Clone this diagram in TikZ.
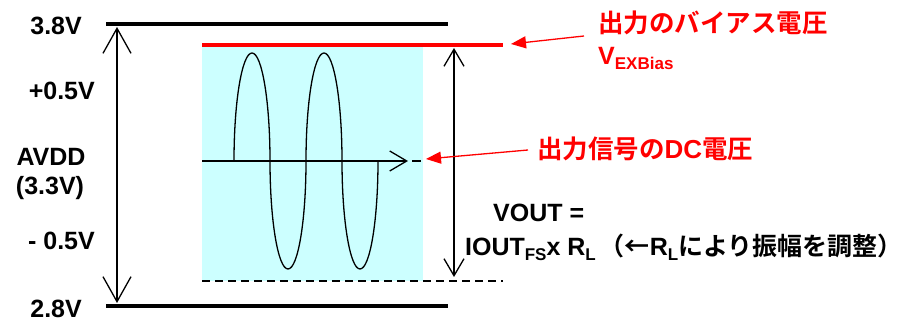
\documentclass[tikz,border=0pt]{standalone}
\usepackage{fontspec}
\setmainfont{Liberation Sans}
\newfontfamily\cjk{Noto Sans CJK JP}[BoldFont={Noto Sans CJK JP Bold}]
\usetikzlibrary{arrows.meta}
\definecolor{bgcyan}{HTML}{CCFFFF}
\definecolor{pred}{HTML}{FF0000}
\newcommand\sbs[1]{\raisebox{-5pt}{\fontsize{17}{17}\selectfont #1}}
\begin{document}
\begin{tikzpicture}[x=1pt,y=1pt,
  lbl/.style={font=\fontsize{25}{27}\selectfont\bfseries, inner sep=0pt},
  rlbl/.style={font=\fontsize{25.5}{27}\selectfont\bfseries\cjk, text=pred, inner sep=0pt},
  rail/.style={line width=3.6pt},
  thinline/.style={line width=1.3pt},
  bigdbl/.style={thinline, {Straight Barb[length=25pt,width=28pt]}-{Straight Barb[length=25pt,width=28pt]}},
  smalldbl/.style={thinline, {Straight Barb[length=17pt,width=20pt]}-{Straight Barb[length=17pt,width=20pt]}},
  redarrow/.style={pred, line width=1.3pt, -{Triangle[length=15pt,width=12pt]}}]
\useasboundingbox (0,0) rectangle (905,323);
% background region
\fill[bgcyan] (202,42) rectangle (423,278);
% rails
\coordinate (t0) at (106,299); \coordinate (t1) at (448,299);
\coordinate (b0) at (106,17); \coordinate (b1) at (448,17);
\draw[rail] (t0) -- (t1);
\draw[rail] (b0) -- (b1);
% red bias line
\coordinate (r0) at (202,278); \coordinate (r1) at (503,278);
\draw[pred, line width=4pt] (r0) -- (r1);
% dashed bottom
\coordinate (d0) at (202,42); \coordinate (d1) at (503,42);
\draw[thinline, dash pattern=on 8pt off 5pt] (d0) -- (d1);
% left double arrow
\coordinate (la0) at (117,296); \coordinate (la1) at (117,20);
\draw[bigdbl] (la0) -- (la1);
% right double arrow
\coordinate (ra0) at (454,275); \coordinate (ra1) at (454,46);
\draw[smalldbl] (ra0) -- (ra1);
% axis
\coordinate (ax0) at (202,162); \coordinate (ax1) at (408,162);
\coordinate (ax2) at (412,162); \coordinate (ax3) at (421,162);
\draw[thinline, -{Straight Barb[length=17pt,width=20pt]}] (ax0) -- (ax1);
\draw[thinline] (ax2) -- (ax3);
% sine
\coordinate (s0) at (234,162);
\draw[thinline] (s0)
  arc[start angle=180,end angle=0,x radius=18,y radius=108]
  arc[start angle=180,end angle=360,x radius=18,y radius=108]
  arc[start angle=180,end angle=0,x radius=18,y radius=108]
  arc[start angle=180,end angle=360,x radius=18,y radius=108];
% left labels
\node[lbl, anchor=base east] (l38) at (82,288) {3.8V};
\node[lbl, anchor=base east] (lp05) at (95,223) {+0.5V};
\node[lbl, anchor=base] (lavdd) at (51,157) {AVDD};
\node[lbl, anchor=base] (l33) at (50,128) {(3.3V)};
\node[lbl, anchor=base east] (lm05) at (95,73) {- 0.5V};
\node[lbl, anchor=base east] (l28) at (82,5) {2.8V};
% red labels
\node[rlbl, anchor=base west] (bias) at (598,290) {出力のバイアス電圧};
\node[font=\fontsize{25}{27}\selectfont\bfseries, text=pred, inner sep=0pt, anchor=base west] (vex) at (598,258) {V\sbs{EXBias}};
\node[rlbl, anchor=base west] (dc) at (537,164) {出力信号の{\rmfamily\fontsize{26}{27}\selectfont DC}電圧};
\coordinate (a1s) at (584,287); \coordinate (a1e) at (511,279);
\draw[redarrow] (a1s) -- (a1e);
\coordinate (a2s) at (528,173); \coordinate (a2e) at (426,164);
\draw[redarrow] (a2s) -- (a2e);
% VOUT text
\node[lbl, anchor=base west] (vout) at (493,101) {VOUT =};
\node[lbl, anchor=base east] (iout) at (903,67) {IOUT\sbs{FS}x R\sbs{L}\hspace{4pt}{\cjk（←}R\sbs{L}{\cjk により振幅を調整）}};
\end{tikzpicture}
\end{document}
